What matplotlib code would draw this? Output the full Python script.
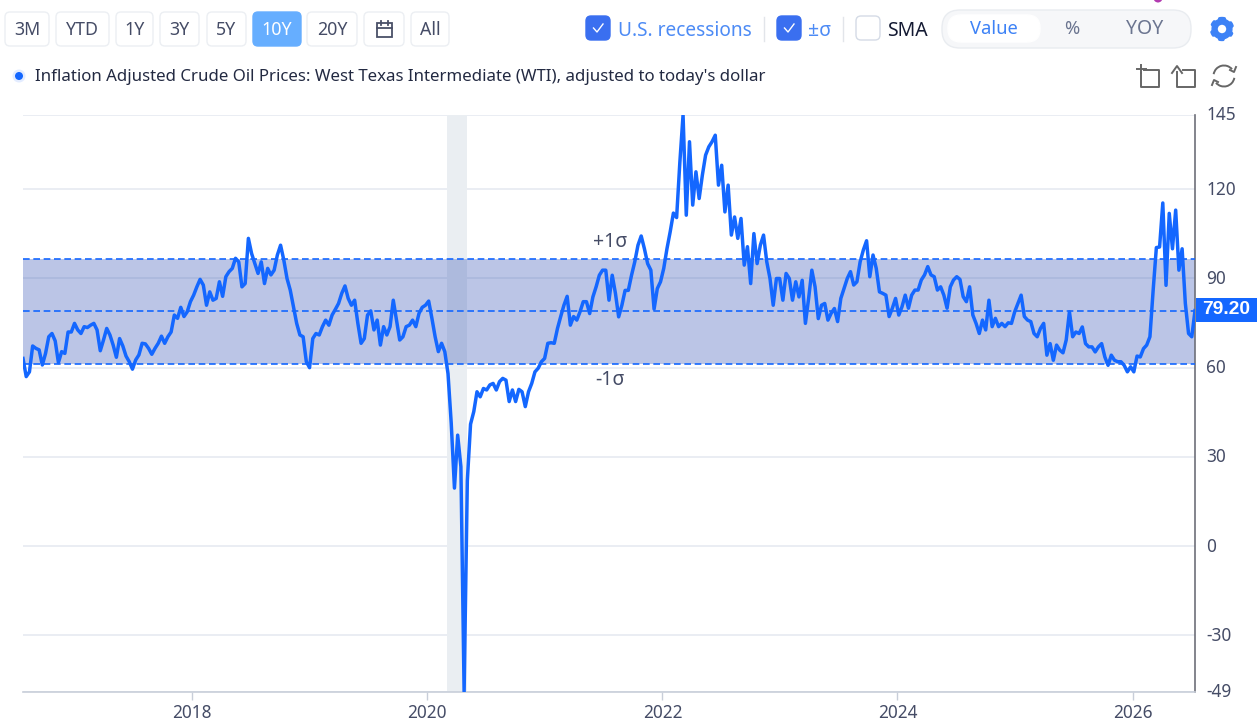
import numpy as np
import pandas as pd
import matplotlib
matplotlib.use('Agg')
import matplotlib.pyplot as plt
from matplotlib.patches import FancyBboxPatch, Rectangle, Circle, Polygon, Arc
from matplotlib.transforms import ScaledTranslation

plt.rcParams['font.family'] = ['Noto Sans', 'DejaVu Sans']
plt.rcParams['axes.unicode_minus'] = False

# WTI adjusted price, one reading every 10 days from the left edge
prices = [
    63.1, 57, 58.6, 67.3, 66.5, 66, 60.9, 64.8, 70.4, 71.5,
    69, 61.7, 65.4, 64.8, 72, 72, 74.9, 72.7, 71.5, 73.8,
    73.5, 74.3, 74.9, 72.7, 65.7, 69.3, 73.2, 71, 67.6, 63.5,
    69.8, 67.3, 63.9, 62, 59.5, 62.6, 64.3, 68.2, 68, 66.5,
    64.5, 66.5, 68.2, 70.6, 68.2, 70.4, 72, 77.7, 76.6, 80.3,
    77.2, 78.8, 82.2, 84.4, 87.2, 89.7, 87.8, 81, 85.5, 82.7,
    83.3, 88.9, 84, 90.6, 92.3, 93.4, 96.8, 95.6, 87.2, 88.3,
    103.5, 98.4, 95, 91.7, 95.6, 88.3, 93.4, 91.2, 92.8, 97.9,
    101.2, 96.2, 90, 86.1, 80.5, 74.9, 71, 70.4, 62, 60,
    69.8, 71.5, 71, 73.8, 76, 74.3, 77.7, 79.6, 81.6, 85,
    87.5, 83.3, 81, 82.7, 74.9, 68.2, 69.8, 77.7, 79.1, 72.7,
    76, 67.6, 73.8, 71, 73.8, 82.7, 76, 69.3, 70.4, 73.8,
    74.3, 76, 73.8, 78.3, 80.3, 81, 82.4, 76.6, 70.4, 65.4,
    68.2, 65.4, 58, 41.3, 19.5, 37.3, 26.7, -49, 22, 41,
    45.2, 51.9, 50.2, 53, 52.5, 54.2, 54.7, 52.5, 55.3, 56.4,
    55.8, 48.6, 52.5, 48.6, 52.7, 51.9, 46.9, 51.9, 54.7, 58.6,
    59.8, 62, 63.1, 68.2, 68.4, 68.2, 73.2, 77.2, 81, 84,
    74.3, 77.2, 76, 78.8, 82.2, 82.2, 78.2, 83.8, 87.2, 91.1,
    92.8, 92.8, 82.7, 91.1, 85, 77.1, 81, 86, 86, 91.1,
    95.6, 101.2, 104.3, 100, 95, 92.8, 79.7, 86.6, 88.9, 93.4,
    100, 105.7, 112, 110.5, 129, 145, 111.3, 136, 114.7, 125.9,
    116.9, 124.8, 131.5, 134.3, 136, 138.2, 121.4, 128.1, 112.4, 121.4,
    104.6, 110.7, 103.5, 110.2, 94.5, 100.7, 88.3, 105.1, 95, 101.2,
    104.6, 95.6, 90, 81, 90, 90, 82.7, 91.7, 90, 82.7,
    88.9, 83.8, 89.4, 74.9, 83.3, 92.8, 87.2, 76.5, 81, 81.6,
    76, 78.3, 79.9, 75.5, 83.3, 86.7, 90, 92.3, 87.8, 88.9,
    95.6, 99.6, 102.7, 90.6, 97.9, 93.4, 85.5, 85, 84.4, 77.2,
    80, 83.3, 77.7, 80.5, 84.4, 80, 84.4, 86.1, 86.1, 89.5,
    91.2, 94, 91.2, 90.6, 86.1, 87.2, 84.4, 80, 87.2, 89.5,
    90.6, 89.7, 83.9, 82.2, 87.2, 77.7, 74.9, 71.5, 76, 72.7,
    82.7, 73.8, 76.6, 73.8, 74.9, 73.8, 75.1, 74.9, 78.8, 81.6,
    84.4, 77.2, 76, 75.5, 71.5, 70.4, 73.2, 74.9, 64.2, 68.1,
    62.5, 67.6, 65.9, 65, 69.3, 78.8, 70.4, 72, 71.5, 73.7,
    68.1, 67, 67, 65.3, 67, 68.1, 63.6, 60.8, 64.2, 62.5,
    62, 62, 60.8, 58.6, 60.3, 58.6, 63.9, 63.6, 66.4, 67.6,
    70.4, 86, 100.4, 100.6, 115.4, 87.7, 111.9, 100, 113, 92.8,
    100, 81.6, 71.5, 70.4, 79.2,
]
start_date = '2016-07-25'
end_date = '2026-07-13'
recession = ('2020-03-04', '2020-05-04')

mean_value = 79.1
plus_sigma = 96.6
minus_sigma = 61.3
last_value = 79.2

y_ticks = [145, 120, 90, 60, 30, 0, -30, -49]
x_years = [2018, 2020, 2022, 2024, 2026]

range_buttons = ['3M', 'YTD', '1Y', '3Y', '5Y', '10Y', '20Y', '', 'All']
button_edges = [(5, 49), (56, 109), (116, 153), (160, 199), (207, 246),
                (253, 301), (307, 357), (364, 404), (411, 449)]
title = "Inflation Adjusted Crude Oil Prices: West Texas Intermediate (WTI), adjusted to today's dollar"

BLUE = '#1467ff'
TEXT = '#454c66'

W, H = 1258, 727
fig = plt.figure(figsize=(W / 100, H / 100), dpi=100)
ax = fig.add_axes([23 / W, 1 - 691.7 / H, (1195 - 23) / W, (691.7 - 115) / H])

dates = pd.date_range(start_date, periods=len(prices), freq='10D')

# chart
ax.axvspan(pd.Timestamp(recession[0]), pd.Timestamp(recession[1]), color='#eaeef2', lw=0, zorder=1)
ax.axhspan(minus_sigma, plus_sigma, color='#3d5bb8', alpha=0.35, lw=0, zorder=2)
for level in [plus_sigma, mean_value, minus_sigma]:
    ax.axhline(level, color=BLUE, lw=1.2, dashes=(4, 2.2), zorder=3)
ax.plot(dates, prices, color=BLUE, lw=2.5, solid_joinstyle='round', zorder=4)

ax.set_xlim(pd.Timestamp(start_date), pd.Timestamp(end_date))
ax.set_ylim(-49, 145)
ax.set_yticks(y_ticks)
ax.set_xticks([pd.Timestamp(f'{y}-01-01') for y in x_years])
ax.set_xticklabels([str(y) for y in x_years])
ax.grid(axis='y', color='#e8ecf2', lw=1.3, zorder=0)
ax.set_axisbelow(True)
ax.yaxis.tick_right()
ax.tick_params(axis='y', length=0, pad=8, labelsize=12.4, labelcolor=TEXT)
ax.tick_params(axis='x', length=6, width=1, color='#c8ced9', pad=3, labelsize=12.4, labelcolor=TEXT)
nudge = ScaledTranslation(0, 1.5 / 100, fig.dpi_scale_trans)
for label in ax.get_yticklabels():
    label.set_transform(label.get_transform() + nudge)
for side in ['top', 'left']:
    ax.spines[side].set_visible(False)
ax.spines['right'].set_color('#6e7079')
ax.spines['right'].set_linewidth(1.2)
ax.spines['bottom'].set_color('#c8ced9')
ax.spines['bottom'].set_linewidth(1.2)

# everything else is laid out in pixels on a full-figure overlay
ui = fig.add_axes([0, 0, 1, 1], facecolor='none')
ui.set_xlim(0, W)
ui.set_ylim(H, 0)
ui.axis('off')


def round_box(x0, x1, y0, y1, radius, face, edge, lw=1.0):
    ui.add_patch(FancyBboxPatch((x0 + radius, y0 + radius), x1 - x0 - 2 * radius, y1 - y0 - 2 * radius,
                                boxstyle=f'round,pad={radius},rounding_size={radius}',
                                fc=face, ec=edge, lw=lw))


def tick_box(x0, x1):
    round_box(x0, x1, 16, 40, 5, '#3a6ff0', '#3a6ff0')
    ui.plot([x0 + 7.5, x0 + 11, x0 + 17], [28, 32, 24], color='white', lw=1)


for label, (x0, x1) in zip(range_buttons, button_edges):
    active = label == '10Y'
    round_box(x0, x1, 12, 46, 5, '#66aeff' if active else 'white', '#66aeff' if active else '#eceff3')
    ui.text((x0 + x1) / 2, 30, label, ha='center', va='center', fontsize=12.8,
            color='white' if active else TEXT)

# calendar icon
ui.add_patch(Rectangle((377, 23), 15, 14, fc='none', ec='#4a5068', lw=1.3))
ui.plot([377, 392], [27.5, 27.5], color='#4a5068', lw=1.3)
ui.plot([381, 381], [21, 25], color='#4a5068', lw=1.3)
ui.plot([388, 388], [21, 25], color='#4a5068', lw=1.3)

tick_box(586, 610)
ui.text(618, 31, 'U.S. recessions', ha='left', va='center', fontsize=13.7, color='#4d8bf5')
ui.plot([764, 764], [17, 41], color='#e2e5ea', lw=1)
tick_box(777, 801)
ui.text(808, 31, '±σ', ha='left', va='center', fontsize=14, color='#4d8bf5')
ui.plot([843, 843], [17, 41], color='#e2e5ea', lw=1)
round_box(856, 880, 16, 40, 5, 'white', '#d5dbe6')
ui.text(887, 31, 'SMA', ha='left', va='center', fontsize=14, color='#141a33')

round_box(942, 1191, 10, 48, 18, '#f6f7f9', '#e9ecf0')
round_box(948, 1040, 15, 42, 13, 'white', 'white')
ui.text(994, 29, 'Value', ha='center', va='center', fontsize=13.2, color='#3d82f6')
ui.text(1072, 29, '%', ha='center', va='center', fontsize=13.2, color='#6b7590')
ui.text(1145, 29, 'YOY', ha='center', va='center', fontsize=14, color='#6b7590')

# gear
angles = np.linspace(0, 2 * np.pi, 48, endpoint=False) + np.pi / 2
radii = 11.5 - 1.6 * (np.cos(6 * (angles - np.pi / 2)) < 0)
ui.add_patch(Polygon(np.column_stack([1222 + radii * np.cos(angles), 29 + radii * np.sin(angles)]),
                     fc='#3d82f6', ec='#3d82f6', lw=1, joinstyle='round'))
ui.add_patch(Circle((1222, 29), 4.2, fc='white', ec='none'))

ui.add_patch(Circle((1158, -2), 4.5, fc='#b23bb0', ec='none', clip_on=True))

ui.add_patch(Circle((19, 76), 6.5, fc='#e3ecff', ec='none'))
ui.add_patch(Circle((19, 76), 4, fc=BLUE, ec='none'))
ui.text(35, 77, title, ha='left', va='center', fontsize=12.13, color='#232a42')

# toolbox icons
ICON = '#666666'
ui.plot([1144, 1159, 1159, 1141, 1141], [70, 70, 87, 87, 73], color=ICON, lw=1.4)
ui.plot([1137, 1146], [69, 69], color=ICON, lw=1.4)
ui.plot([1141, 1141], [65, 73], color=ICON, lw=1.4)
ui.plot([1183, 1195, 1195, 1177, 1177], [70, 70, 87, 87, 72], color=ICON, lw=1.4)
ui.plot([1172, 1177, 1182], [73, 66, 73], color=ICON, lw=1.4)
ui.add_patch(Arc((1224, 76), 21, 21, theta1=190, theta2=320, ec=ICON, lw=1.4))
ui.add_patch(Arc((1224, 76), 21, 21, theta1=10, theta2=140, ec=ICON, lw=1.4))
ui.plot([1230, 1234, 1236], [70, 72, 67], color=ICON, lw=1.4)
ui.plot([1218, 1214, 1212], [82, 80, 85], color=ICON, lw=1.4)

# band labels and last value tag
ui.text(610, 242, '+1σ', ha='center', va='center', fontsize=14, color=TEXT)
ui.text(610, 380, '-1σ', ha='center', va='center', fontsize=14, color=TEXT)
ui.add_patch(Rectangle((1196, 298), 61, 24, fc=BLUE, ec='none'))
ui.text(1226.5, 309.5, f'{last_value:.2f}', ha='center', va='center', fontsize=13.8,
        fontweight='bold', family='Liberation Sans', color='white')

fig.savefig('out.png', dpi=100)
